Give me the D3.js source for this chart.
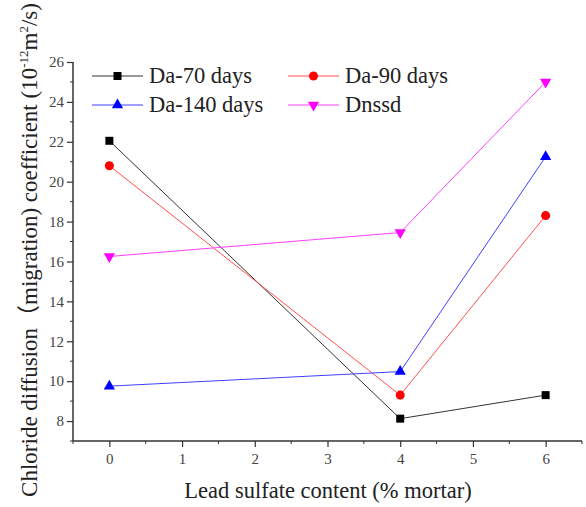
<!DOCTYPE html>
<html>
<head>
<meta charset="utf-8">
<script src="https://cdn.jsdelivr.net/npm/d3@7"></script>
<style>
  body { margin: 0; background: #fff; }
  text { font-family: 'Liberation Serif', 'Times New Roman', 'Noto Sans CJK SC', serif; }
</style>
</head>
<body>
<div class="chart-box"></div>
<script>
var contents = [0, 4, 6];
var da70 = [22.05, 8.12, 9.3];
var da90 = [20.8, 9.3, 18.3];
var da140 = [9.75, 10.48, 21.25];
var dnssd = [16.25, 17.45, 25.0];
var seriesNames = ["Da-70 days", "Da-90 days", "Da-140 days", "Dnssd"];
var xTicks = [0, 1, 2, 3, 4, 5, 6];
var yTicks = [8, 10, 12, 14, 16, 18, 20, 22, 24, 26];

var FONT = "'Liberation Serif', 'Times New Roman', 'Noto Sans CJK SC', serif";
var width = 586, height = 507;
var margin = {top: 62, right: 4, bottom: 66, left: 73};

var svg = d3.select(".chart-box").append("svg")
    .attr("width", width)
    .attr("height", height)
    .attr("font-family", FONT);

var x = d3.scaleLinear().domain([-0.5, 6.5]).range([margin.left, width - margin.right]);
var y = d3.scaleLinear().domain([7, 26]).range([height - margin.bottom, margin.top]);

var styles = [
  {color: "#000000", line: "#333333", shape: d3.symbolSquare, size: 64},
  {color: "#ff0000", line: "#ff5050", shape: d3.symbolCircle, size: 64},
  {color: "#0000ff", line: "#4040ff", shape: d3.symbolTriangle, size: 55},
  {color: "#ff00ff", line: "#ff40ff", shape: d3.symbolTriangle, size: 55, flip: true}
];
var allSeries = [da70, da90, da140, dnssd];

// axes
var xAxis = svg.append("g")
    .attr("transform", "translate(0," + y(7) + ")")
    .call(d3.axisBottom(x).tickValues(xTicks).tickSize(6).tickPadding(6).tickFormat(d3.format("d")));
xAxis.select(".domain").attr("d", "M" + x(-0.5) + ",0H" + x(6.5));
xAxis.selectAll(".minor").data(d3.range(-0.5, 6.6, 1)).enter().append("line")
    .attr("class", "minor")
    .attr("x1", function(d) { return x(d); }).attr("x2", function(d) { return x(d); })
    .attr("y1", 0).attr("y2", 3).attr("stroke", "#333");

var yAxis = svg.append("g")
    .attr("transform", "translate(" + x(-0.5) + ",0)")
    .call(d3.axisLeft(y).tickValues(yTicks).tickSize(6).tickPadding(3));
yAxis.select(".domain").attr("d", "M0," + y(7) + "V" + y(26));
yAxis.selectAll(".minor").data(d3.range(7, 26, 2)).enter().append("line")
    .attr("class", "minor")
    .attr("y1", function(d) { return y(d); }).attr("y2", function(d) { return y(d); })
    .attr("x1", 0).attr("x2", -3).attr("stroke", "#333");

xAxis.attr("font-family", FONT);
yAxis.attr("font-family", FONT);
svg.selectAll(".domain").attr("stroke", "#333").attr("stroke-width", 1.5);
svg.selectAll(".tick line").attr("stroke", "#333").attr("stroke-width", 1.2);
svg.selectAll(".tick text").attr("font-size", 15).attr("fill", "#444");

// lines and markers
var line = d3.line()
    .x(function(d, i) { return x(contents[i]); })
    .y(function(d) { return y(d); });

allSeries.forEach(function(s, k) {
  svg.append("path")
      .datum(s)
      .attr("fill", "none")
      .attr("stroke", styles[k].line)
      .attr("stroke-width", 1)
      .attr("d", line);
});
allSeries.forEach(function(s, k) {
  var st = styles[k];
  svg.selectAll(".pt" + k)
      .data(s)
    .enter().append("path")
      .attr("class", "pt" + k)
      .attr("d", d3.symbol().type(st.shape).size(st.size))
      .attr("fill", st.color)
      .attr("transform", function(d, i) {
        return "translate(" + x(contents[i]) + "," + y(d) + ")" + (st.flip ? " rotate(180)" : "");
      });
});

// legend
var legendPos = [[92, 76], [288, 76], [92, 105], [288, 105]];
seriesNames.forEach(function(name, k) {
  var st = styles[k];
  var p = legendPos[k];
  var g = svg.append("g").attr("transform", "translate(" + p[0] + "," + p[1] + ")");
  g.append("line").attr("x1", 0).attr("x2", 51).attr("y1", 0).attr("y2", 0)
      .attr("stroke", st.line).attr("stroke-width", 1);
  g.append("path")
      .attr("d", d3.symbol().type(st.shape).size(st.size))
      .attr("fill", st.color)
      .attr("transform", "translate(25.5,0)" + (st.flip ? " rotate(180)" : ""));
  g.append("text").attr("x", 57).attr("y", 7)
      .attr("font-size", 22.5).attr("fill", "#222").text(name);
});

// axis titles
svg.append("text")
    .attr("x", 328)
    .attr("y", 498)
    .attr("text-anchor", "middle")
    .attr("font-size", 22.5)
    .attr("fill", "#222")
    .text("Lead sulfate content (% mortar)");

var yt = svg.append("text")
    .attr("transform", "rotate(-90)")
    .attr("x", -250)
    .attr("y", 37)
    .attr("text-anchor", "middle")
    .attr("font-size", 23)
    .attr("fill", "#222");
yt.append("tspan").text("Chloride diffusion\uff08migration) coefficient (10");
yt.append("tspan").attr("font-size", 13).attr("dy", -9).text("-12");
yt.append("tspan").attr("dy", 9).text("m");
yt.append("tspan").attr("font-size", 13).attr("dy", -9).text("2");
yt.append("tspan").attr("dy", 9).text("/s)");
</script>
</body>
</html>
